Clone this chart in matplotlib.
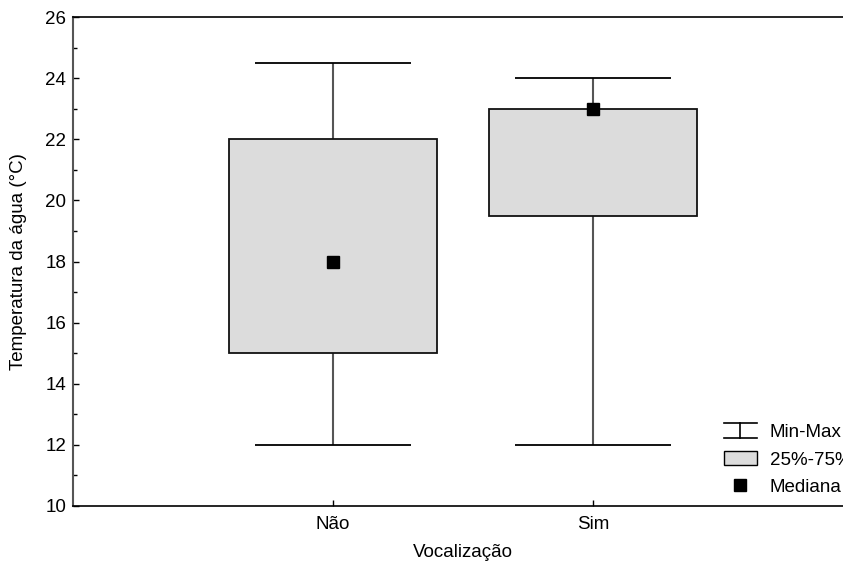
import matplotlib
matplotlib.use('Agg')
import matplotlib.pyplot as plt
from matplotlib.lines import Line2D
from matplotlib.patches import Patch
from matplotlib.legend_handler import HandlerBase
from matplotlib.ticker import MultipleLocator

plt.rcParams['font.family'] = ['Liberation Sans', 'DejaVu Sans']

# data
categories = ['Não', 'Sim']
mins = [12.0, 12.0]
q1 = [15.0, 19.5]
medians = [18.0, 23.0]
q3 = [22.0, 23.0]
maxs = [24.5, 24.0]

BOX_FILL = '#dcdcdc'
WHISK = '#555555'


class HandlerMinMax(HandlerBase):
    # I-beam legend symbol for the min-max whiskers
    def create_artists(self, legend, orig_handle, xdescent, ydescent,
                       width, height, fontsize, trans):
        x0, x1 = -xdescent, -xdescent + width
        y0, y1 = -ydescent - 0.05 * height, -ydescent + 1.05 * height
        xm = (x0 + x1) / 2
        arts = [
            Line2D([x0, x1], [y0, y0], color='black', lw=1.2),
            Line2D([x0, x1], [y1, y1], color='black', lw=1.2),
            Line2D([xm, xm], [y0, y1], color='black', lw=1.2),
        ]
        for a in arts:
            a.set_transform(trans)
        return arts


fig = plt.figure(figsize=(8.43, 5.66), dpi=100)
ax = fig.add_axes([73 / 843, 60 / 566, 780 / 843, 489 / 566])

pos = list(range(1, len(categories) + 1))

# whiskers and caps
ax.vlines(pos, mins, q1, color=WHISK, lw=1.5, zorder=1)
ax.vlines(pos, q3, maxs, color=WHISK, lw=1.5, zorder=1)
ax.hlines(mins, [p - 0.3 for p in pos], [p + 0.3 for p in pos], color='black', lw=1.3, zorder=1)
ax.hlines(maxs, [p - 0.3 for p in pos], [p + 0.3 for p in pos], color='black', lw=1.3, zorder=1)

# boxes
heights = [b - a for a, b in zip(q1, q3)]
ax.bar(pos, heights, bottom=q1, width=0.8, color=BOX_FILL,
       edgecolor='#111111', linewidth=1.3, zorder=2)

# medians
ax.plot(pos, medians, 's', color='black', ms=8, zorder=3)

ax.set_xlim(0, 3)
ax.set_ylim(10, 26)
ax.set_xticks(pos)
ax.set_xticklabels(categories)
ax.yaxis.set_major_locator(MultipleLocator(2))
ax.yaxis.set_minor_locator(MultipleLocator(1))
ax.tick_params(axis='both', which='major', direction='in', length=4, width=1,
               labelsize=13.5, pad=5)
ax.tick_params(axis='y', which='minor', direction='in', length=3, width=1)
ax.tick_params(axis='x', pad=7)

ax.spines['left'].set_color('#555555')
ax.spines['left'].set_linewidth(1.5)
for s in ['top', 'bottom']:
    ax.spines[s].set_linewidth(1.2)
ax.spines['right'].set_visible(False)

ax.set_ylabel('Temperatura da água (°C)', fontsize=13.5, labelpad=13)
ax.set_xlabel('Vocalização', fontsize=13.5, labelpad=8)

handles = [
    Line2D([], [], color='black'),
    Patch(facecolor=BOX_FILL, edgecolor='black', linewidth=1),
    Line2D([], [], marker='s', color='black', linestyle='none', ms=8),
]
labels = ['Min-Max', '25%-75%', 'Mediana']
ax.legend(handles, labels, loc='upper left', bbox_to_anchor=(0.825, 0.183),
          frameon=False, fontsize=13.5, handlelength=1.75, handletextpad=0.7,
          labelspacing=0.55, borderaxespad=0,
          handler_map={handles[0]: HandlerMinMax()})

fig.savefig('out.png', dpi=100)
